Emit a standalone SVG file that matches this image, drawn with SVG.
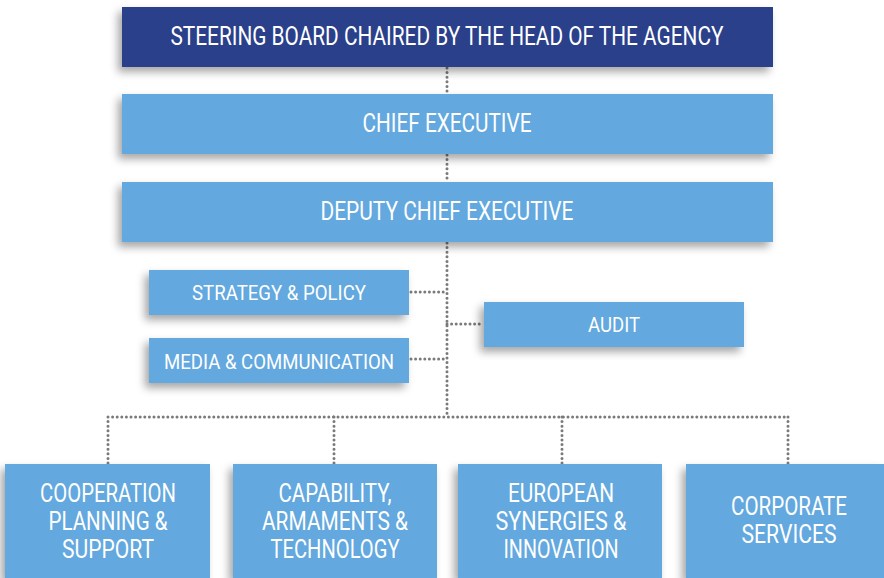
<svg xmlns="http://www.w3.org/2000/svg" width="884" height="578" viewBox="0 0 884 578">
<defs>
<filter id="sh" x="-10%" y="-20%" width="120%" height="150%">
<feDropShadow dx="-4" dy="5" stdDeviation="4" flood-color="#000" flood-opacity="0.35"/>
</filter>
<style>
.dark{fill:#2b418a;filter:url(#sh)}
.lb{fill:#63a8de;filter:url(#sh)}
text{font-family:"Roboto","Liberation Sans",sans-serif;fill:#fff;text-anchor:middle}
.t1{font-size:26px}
.t2{font-size:21px}
.t3{font-size:25px}
.c{fill:none;stroke:#7a7a7a;stroke-width:3;stroke-linecap:round;stroke-dasharray:0 4.6}
</style>
</defs>
<rect width="884" height="578" fill="#fff"/>
<g id="connectors">
<path class="c" d="M447 68V94M447 155V182M447 243V417"/>
<path class="c" d="M411 292H447M411 359H447M447 324H482"/>
<path class="c" d="M108 417H788M108 417V464M334 417V464M562 417V464M788 417V464"/>
</g>
<g id="steering">
<rect class="dark" x="122" y="7" width="651" height="60"/>
<text class="t1" x="447" y="45" textLength="553" lengthAdjust="spacingAndGlyphs">STEERING BOARD CHAIRED BY THE HEAD OF THE AGENCY</text>
</g>
<g id="chief">
<rect class="lb" x="122" y="94" width="651" height="60"/>
<text class="t1" x="447" y="132" textLength="169" lengthAdjust="spacingAndGlyphs">CHIEF EXECUTIVE</text>
</g>
<g id="deputy">
<rect class="lb" x="122" y="182" width="651" height="60"/>
<text class="t1" x="447" y="220" textLength="253" lengthAdjust="spacingAndGlyphs">DEPUTY CHIEF EXECUTIVE</text>
</g>
<g id="strategy">
<rect class="lb" x="149" y="270" width="260" height="45"/>
<text class="t2" x="279" y="300" textLength="174" lengthAdjust="spacingAndGlyphs">STRATEGY &amp; POLICY</text>
</g>
<g id="media">
<rect class="lb" x="149" y="338" width="260" height="45"/>
<text class="t2" x="279" y="369" textLength="230" lengthAdjust="spacingAndGlyphs">MEDIA &amp; COMMUNICATION</text>
</g>
<g id="audit">
<rect class="lb" x="484" y="302" width="260" height="45"/>
<text class="t2" x="614" y="332" textLength="52" lengthAdjust="spacingAndGlyphs">AUDIT</text>
</g>
<g id="cooperation">
<rect class="lb" x="5" y="464" width="205" height="114"/>
<text class="t3" x="108" y="502" textLength="136" lengthAdjust="spacingAndGlyphs">COOPERATION</text>
<text class="t3" x="108" y="530" textLength="119" lengthAdjust="spacingAndGlyphs">PLANNING &amp;</text>
<text class="t3" x="108" y="558" textLength="92" lengthAdjust="spacingAndGlyphs">SUPPORT</text>
</g>
<g id="capability">
<rect class="lb" x="233" y="464" width="204" height="114"/>
<text class="t3" x="335" y="502" textLength="113" lengthAdjust="spacingAndGlyphs">CAPABILITY,</text>
<text class="t3" x="335" y="530" textLength="146" lengthAdjust="spacingAndGlyphs">ARMAMENTS &amp;</text>
<text class="t3" x="335" y="558" textLength="129" lengthAdjust="spacingAndGlyphs">TECHNOLOGY</text>
</g>
<g id="european">
<rect class="lb" x="458" y="464" width="204" height="114"/>
<text class="t3" x="561" y="502" textLength="106" lengthAdjust="spacingAndGlyphs">EUROPEAN</text>
<text class="t3" x="561" y="530" textLength="131" lengthAdjust="spacingAndGlyphs">SYNERGIES &amp;</text>
<text class="t3" x="561" y="558" textLength="115" lengthAdjust="spacingAndGlyphs">INNOVATION</text>
</g>
<g id="corporate">
<rect class="lb" x="686" y="464" width="198" height="114"/>
<text class="t3" x="789" y="515" textLength="116" lengthAdjust="spacingAndGlyphs">CORPORATE</text>
<text class="t3" x="789" y="543" textLength="95" lengthAdjust="spacingAndGlyphs">SERVICES</text>
</g>
</svg>
